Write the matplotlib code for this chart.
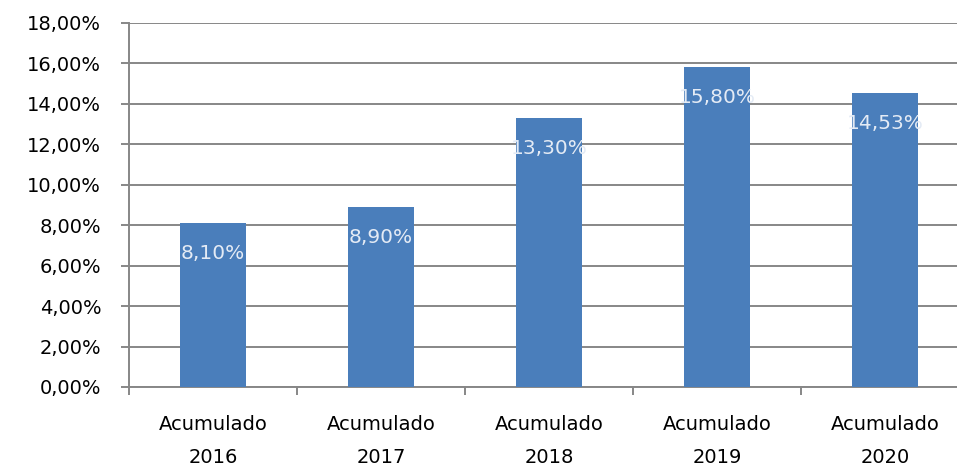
import matplotlib
matplotlib.use("Agg")
import matplotlib.pyplot as plt
from matplotlib.ticker import FuncFormatter

categories = ["Acumulado\n2016", "Acumulado\n2017", "Acumulado\n2018", "Acumulado\n2019", "Acumulado\n2020"]
values = [8.10, 8.90, 13.30, 15.80, 14.53]
value_labels = ["8,10%", "8,90%", "13,30%", "15,80%", "14,53%"]
yticks = [0, 2, 4, 6, 8, 10, 12, 14, 16, 18]

plt.rcParams['font.family'] = ['DejaVu Sans']

fig = plt.figure(figsize=(9.57, 4.68), dpi=100)
ax = fig.add_axes([129/957, 81/468, 840/957, 364/468])

grid_c = "#878787"
x = list(range(len(categories)))
bars = ax.bar(x, values, width=0.393, color="#4A7EBB", zorder=3)

for xi, v, lab in zip(x, values, value_labels):
    ax.annotate(lab, (xi, v), xytext=(0, -30), textcoords="offset pixels",
                ha="center", va="center", color="#E4EBF5", fontsize=14.5, zorder=4)

ax.set_xlim(-0.5, 4.5)
ax.set_ylim(0, 18)
ax.set_yticks(yticks)
ax.yaxis.set_major_formatter(FuncFormatter(lambda v, p: f"{v:.2f}".replace(".", ",") + "%"))
ax.grid(axis="y", color=grid_c, linewidth=1.4, zorder=0)
ax.set_axisbelow(True)

ax.set_xticks([i + 0.5 for i in range(-1, 5)], minor=False)
ax.set_xticklabels([])
ax.set_xticks(x, minor=True)
ax.set_xticklabels(categories, minor=True, fontsize=14, linespacing=1.95)
ax.tick_params(axis="x", which="minor", length=0, pad=20)
ax.tick_params(axis="x", which="major", length=6, width=1.4, color=grid_c, direction="out")
ax.tick_params(axis="y", length=6, width=1.4, color=grid_c, pad=14, labelsize=14)

for s in ["top", "right"]:
    ax.spines[s].set_visible(False)
for s in ["left", "bottom"]:
    ax.spines[s].set_color(grid_c)
    ax.spines[s].set_linewidth(1.4)

fig.savefig("out.png", dpi=100)
